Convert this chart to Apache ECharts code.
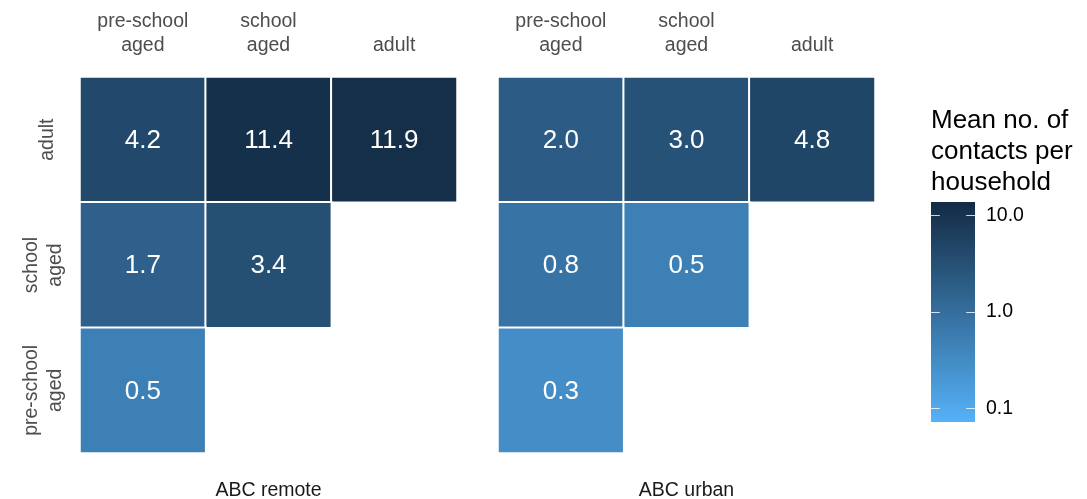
<!DOCTYPE html>
<html>
<head>
<meta charset="utf-8">
<script src="https://cdn.jsdelivr.net/npm/echarts@6/dist/echarts.min.js"></script>
<style>
  html, body { margin: 0; padding: 0; background: #ffffff; }
  #chart { width: 1087px; height: 499px; }
</style>
</head>
<body>
<div id="chart"></div>
<script>
// Age groups (columns: participant, rows: contact), bottom row first
const ageGroups = ['pre-school\naged', 'school\naged', 'adult'];
const panelNames = ['ABC remote', 'ABC urban'];

// [column index, row index, mean number of contacts per household]
const remoteCells = [[0, 2, 4.2], [1, 2, 11.4], [2, 2, 11.9], [0, 1, 1.7], [1, 1, 3.4], [0, 0, 0.5]];
const urbanCells  = [[0, 2, 2.0], [1, 2, 3.0], [2, 2, 4.8], [0, 1, 0.8], [1, 1, 0.5], [0, 0, 0.3]];

// Colour scale (log10) limits and legend breaks
const colourLimits = [0.072, 13.8];
const legendBreaks = [0.1, 1, 10];
const legendTitle = 'Mean no. of\ncontacts per\nhousehold';

const logMin = Math.log10(colourLimits[0]);
const logMax = Math.log10(colourLimits[1]);
const lowColour = '#56B1F7';
const highColour = '#132B43';
const FONT = 'Liberation Sans, Arial, sans-serif';

const chart = echarts.init(document.getElementById('chart'));

function cellData(cells) {
  return cells.map(([x, y, v]) => [x, y, Math.log10(v), v]);
}

function heatmapSeries(idx, cells) {
  return {
    type: 'heatmap',
    xAxisIndex: idx,
    yAxisIndex: idx,
    data: cellData(cells),
    itemStyle: { borderColor: '#ffffff', borderWidth: 2 },
    label: {
      show: true,
      formatter: p => p.data[3].toFixed(1),
      color: '#ffffff',
      fontSize: 26,
      fontFamily: FONT,
      offset: [0, 1]
    },
    emphasis: { disabled: true }
  };
}

const catXAxis = idx => ({
  type: 'category',
  gridIndex: idx,
  position: 'top',
  data: ageGroups,
  axisLine: { show: false },
  axisTick: { show: false },
  splitLine: { show: false },
  axisLabel: {
    interval: 0,
    color: '#4D4D4D',
    fontSize: 19.5,
    lineHeight: 24,
    margin: 19,
    fontFamily: FONT
  }
});

// single-line labels sit in the middle of the two-line block
const yLabel = v => (v.indexOf('\n') < 0 ? '{one|' + v + '}\n{gap| }' : v);

const catYAxis = (idx, showLabels) => ({
  type: 'category',
  gridIndex: idx,
  data: ageGroups,
  axisLine: { show: false },
  axisTick: { show: false },
  splitLine: { show: false },
  axisLabel: {
    show: showLabels,
    interval: 0,
    rotate: 90,
    color: '#4D4D4D',
    fontSize: 19.5,
    lineHeight: 24,
    margin: 12,
    fontFamily: FONT,
    formatter: yLabel,
    rich: {
      one: { fontSize: 19.5, color: '#4D4D4D', fontFamily: FONT, lineHeight: 24 },
      gap: { fontSize: 4, lineHeight: 8 }
    }
  }
});

const legendAxis = (position, showLabels) => ({
  type: 'value',
  gridIndex: 2,
  position: position,
  min: logMin,
  max: logMax,
  z: 10,
  axisLine: { show: false },
  splitLine: { show: false },
  axisTick: {
    show: true,
    inside: true,
    length: 8.8,
    customValues: legendBreaks.map(Math.log10),
    lineStyle: { color: 'rgba(255,255,255,0.8)', width: 1 }
  },
  axisLabel: {
    show: showLabels,
    customValues: legendBreaks.map(Math.log10),
    formatter: v => Math.pow(10, v).toFixed(1),
    color: '#000000',
    fontSize: 19.5,
    margin: 11,
    fontFamily: FONT
  }
});

const option = {
  animation: false,
  backgroundColor: '#ffffff',
  grid: [
    { left: 80, top: 77, width: 377, height: 376 },
    { left: 498, top: 77, width: 377, height: 376 },
    { left: 931, top: 202, width: 44, height: 220 }
  ],
  xAxis: [
    catXAxis(0),
    catXAxis(1),
    { type: 'value', gridIndex: 2, min: 0, max: 1, show: false }
  ],
  yAxis: [
    catYAxis(0, true),
    catYAxis(1, false),
    legendAxis('left', false),
    legendAxis('right', true)
  ],
  visualMap: {
    show: false,
    type: 'continuous',
    seriesIndex: [0, 1],
    dimension: 2,
    min: logMin,
    max: logMax,
    inRange: { color: [lowColour, highColour] }
  },
  series: [
    heatmapSeries(0, remoteCells),
    heatmapSeries(1, urbanCells),
    {
      // colour bar of the legend
      type: 'custom',
      xAxisIndex: 2,
      yAxisIndex: 2,
      silent: true,
      data: [[0, 0]],
      renderItem: (params, api) => {
        const p0 = api.coord([0, logMax]);
        const p1 = api.coord([1, logMin]);
        return {
          type: 'rect',
          shape: { x: p0[0], y: p0[1], width: p1[0] - p0[0], height: p1[1] - p0[1] },
          style: {
            fill: new echarts.graphic.LinearGradient(0, 0, 0, 1, [
              { offset: 0, color: highColour },
              { offset: 1, color: lowColour }
            ])
          }
        };
      }
    }
  ],
  graphic: [
    {
      type: 'text', left: 931, top: 105,
      style: { text: legendTitle, fontSize: 26, lineHeight: 31, fill: '#000000', fontFamily: FONT }
    },
    {
      type: 'text', x: 268.5, y: 491,
      style: { text: panelNames[0], fontSize: 19.5, fill: '#1A1A1A', fontFamily: FONT, align: 'center', verticalAlign: 'middle' }
    },
    {
      type: 'text', x: 686.5, y: 491,
      style: { text: panelNames[1], fontSize: 19.5, fill: '#1A1A1A', fontFamily: FONT, align: 'center', verticalAlign: 'middle' }
    }
  ]
};

chart.setOption(option);
</script>
</body>
</html>
